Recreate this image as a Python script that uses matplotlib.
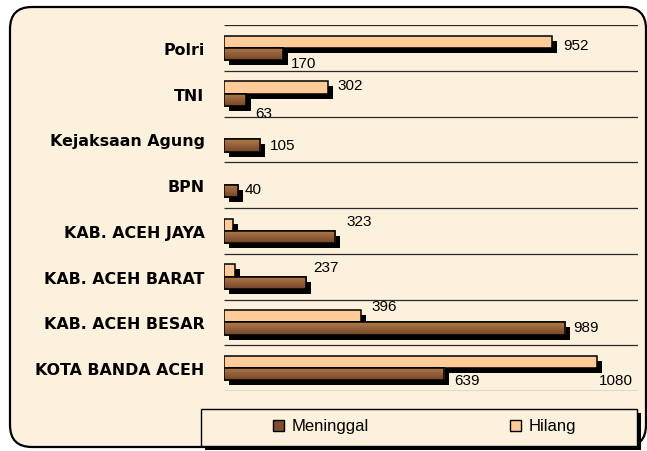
import matplotlib
matplotlib.use('Agg')
import matplotlib.pyplot as plt
import numpy as np
from matplotlib import patheffects as pe
from matplotlib.patches import FancyBboxPatch, Rectangle
from matplotlib.transforms import IdentityTransform
from matplotlib.colors import LinearSegmentedColormap

# ---------------- data ----------------
categories = ["Polri", "TNI", "Kejaksaan Agung", "BPN", "KAB. ACEH JAYA",
              "KAB. ACEH BARAT", "KAB. ACEH BESAR", "KOTA BANDA ACEH"]
meninggal = [170, 63, 105, 40, 323, 237, 989, 639]
hilang = [952, 302, 0, 0, 25, 32, 396, 1080]
series_names = ["Meninggal", "Hilang"]
x_max = 1200

# label offsets (pixels) for value labels: (series, category index) -> (dx, dy)
label_offsets_px = {
    ("h", 0): (11, -3.5), ("m", 0): (8, -9),
    ("h", 1): (9, 2.5), ("m", 1): (10, -13.5),
    ("m", 2): (10, 1), ("m", 3): (7, 2),
    ("m", 4): (11, 16), ("m", 5): (7, 16),
    ("h", 6): (11, 10), ("m", 6): (8, 2),
    ("m", 7): (10, -6), ("h", 7): (2, -18.5),
}

W, H = 647, 452
fig = plt.figure(figsize=(W / 100, H / 100), dpi=100)
fig.patch.set_facecolor('white')

bg = '#FBF1DC'
panel = FancyBboxPatch((10, H - 448), 636, 440,
                       boxstyle="round,pad=0,rounding_size=22",
                       transform=IdentityTransform(), facecolor=bg,
                       edgecolor='black', linewidth=1.6, zorder=-5)
fig.patches.append(panel)

ax = fig.add_axes([224 / W, 1 - 392 / H, (638 - 224) / W, (392 - 26) / H])
ax.set_facecolor('none')
ax.set_zorder(1)

n = len(categories)
ypos = np.arange(n)
h = 0.27
y_h = ypos - h / 2
y_m = ypos + h / 2

shadow = [pe.SimplePatchShadow(offset=(3.6, -3.6), shadow_rgbFace='black', alpha=1.0), pe.Normal()]

# gridlines at category boundaries
ax.hlines(np.arange(n + 1) - 0.5, 0, x_max, colors='#2a2a2a', linewidth=0.9, zorder=1)

# Hilang bars
hil_idx = [i for i in range(n) if hilang[i] > 0]
ax.barh([y_h[i] for i in hil_idx], [hilang[i] for i in hil_idx], height=h,
        color='#FFCC99', edgecolor='black', linewidth=1.1, zorder=3, path_effects=shadow)

# Meninggal bars
men_bars = ax.barh(y_m, meninggal, height=h, color='#8f5a32', edgecolor='black',
                   linewidth=1.1, zorder=4, path_effects=shadow)
cmap = LinearSegmentedColormap.from_list('brown', ['#b27c48', '#94603a', '#744627'])
grad = np.linspace(0, 1, 60).reshape(-1, 1)
for i, patch in enumerate(men_bars.patches):
    im = ax.imshow(grad, extent=(0, meninggal[i], y_m[i] + h / 2, y_m[i] - h / 2),
                   aspect='auto', cmap=cmap, zorder=4.5, interpolation='bilinear')
    im.set_clip_path(patch)
ax.barh(y_m, meninggal, height=h, fill=False, edgecolor='black', linewidth=1.1, zorder=5)

ax.set_xlim(0, x_max)
ax.set_ylim(n - 0.5, -0.5)

# value labels
vfont = dict(family='Liberation Sans', fontsize=11, color='black')
for (s, i), (dx, dy) in label_offsets_px.items():
    val = hilang[i] if s == 'h' else meninggal[i]
    yc = y_h[i] if s == 'h' else y_m[i]
    ax.annotate(str(val), xy=(val, yc), xytext=(dx * 0.72, dy * 0.72),
                textcoords='offset points', ha='left', va='center', zorder=6, **vfont)

ax.set_yticks(ypos)
ax.set_yticklabels(categories, fontfamily='DejaVu Sans', fontweight='bold', fontsize=11.4)
ax.tick_params(axis='y', length=0, pad=14)
ax.set_xticks([])
for sp in ax.spines.values():
    sp.set_visible(False)

# legend (manual)
lg = Rectangle((201, H - 447), 436, 37, transform=IdentityTransform(), facecolor=bg,
               edgecolor='black', linewidth=1.0, zorder=2,
               path_effects=[pe.SimplePatchShadow(offset=(3, -3), shadow_rgbFace='black', alpha=1.0), pe.Normal()])
fig.patches.append(lg)
legend_colors = ['#7d4f2d', '#FFCC99']
legend_x = [273, 510]
for name, col, lx in zip(series_names, legend_colors, legend_x):
    fig.patches.append(Rectangle((lx, H - 432), 11, 11, transform=IdentityTransform(),
                                 facecolor=col, edgecolor='black', linewidth=1.0, zorder=3))
    fig.text((lx + 19) / W, 1 - 427 / H, name, ha='left', va='center',
             family='Liberation Sans', fontsize=12, zorder=4)

fig.savefig('out.png', dpi=100, facecolor='white')
